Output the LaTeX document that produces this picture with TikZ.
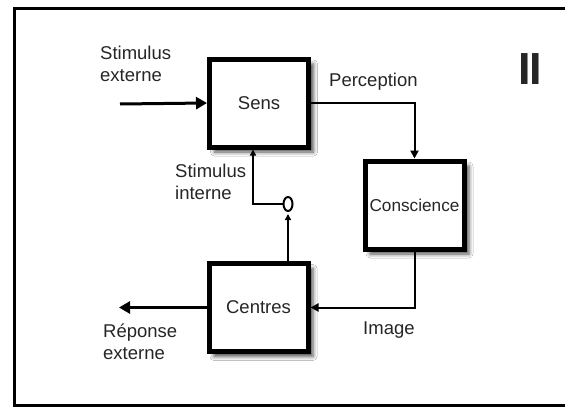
\documentclass[tikz,border=0pt]{standalone}
\usepackage{fontspec}
\setmainfont{Liberation Sans}
\usetikzlibrary{arrows.meta,shapes.geometric,shadows.blur}
\begin{document}
\begin{tikzpicture}[x=1pt,y=-1pt,
  blk/.style={draw, line width=5pt, minimum width=99pt, minimum height=88pt, fill=white, inner sep=0pt,
    font=\fontsize{18.5}{22}\selectfont, text=black!85,
    blur shadow={shadow xshift=5pt, shadow yshift=-5pt, shadow blur radius=4pt, shadow opacity=70}},
  lbl/.style={inner sep=0pt, anchor=north west, align=left, font=\fontsize{18.5}{22}\selectfont, text=black!85},
  conn/.style={line width=2pt, -{Triangle[length=8pt,width=8pt]}},
  bigarrow/.style={line width=3pt, -{Triangle[length=11pt,width=12pt]}}]
\useasboundingbox (0,0) rectangle (565,407);
\clip (0,0) rectangle (565,407);
\fill[white] (0,0) rectangle (565,407);
\draw[line width=3pt] (600,8.5) -- (14.5,8.5) -- (14.5,405.5) -- (600,405.5);

\node[blk] (sens) at (259,103) {Sens};
\node[blk, font=\fontsize{17.2}{22}\selectfont] (consc) at (414.5,205) {Conscience};
\node[blk] (centres) at (258.5,307.5) {Centres};
\node[draw, ellipse, line width=2pt, minimum width=9pt, minimum height=14pt, inner sep=0pt] (gate) at (288,204) {};

\coordinate (sx) at (120,104);
\coordinate (rx) at (119,307.5);
\coordinate (si) at (253,204);

\draw[bigarrow] (sx) -- (sens.west);
\draw[bigarrow] (centres.west) -- (rx);
\draw[conn] (sens.east) -| (consc.north);
\draw[conn] (consc.south) |- (centres.east);
\draw[line width=2pt, -{Triangle[length=6pt,width=6pt]}, shorten >=2pt] (centres.north -| gate.south) -- (gate.south);
\draw[line width=2pt, -{Triangle[length=6pt,width=6pt]}] (gate.west) -- (si) -- (si |- sens.south);

\node[lbl] (stext) at (100,46) {Stimulus\\externe};
\node[lbl] (perc) at (329,73) {Perception};
\node[lbl] (sint) at (175,164) {Stimulus\\interne};
\node[lbl] (rep) at (103,324) {Réponse\\externe};
\node[lbl] (img) at (363,322) {Image};
\node[inner sep=0pt, font=\fontsize{45}{45}\selectfont\bfseries, text=black!85] (num) at (530,69) {I\kern-1.5pt I};
\end{tikzpicture}
\end{document}
